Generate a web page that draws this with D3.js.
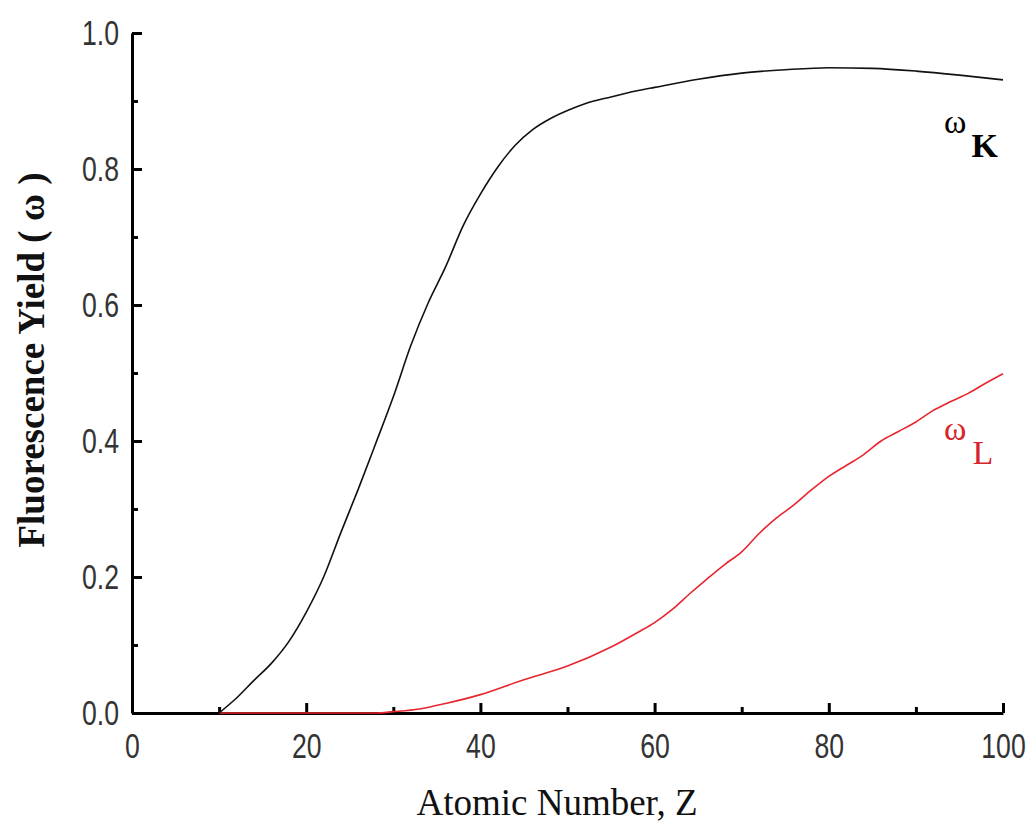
<!DOCTYPE html>
<html>
<head>
<meta charset="utf-8">
<script src="https://cdn.jsdelivr.net/npm/d3@7"></script>
<style>
  html, body { margin: 0; padding: 0; background: #fff; }
  svg { display: block; }
  .tick text { font-family: "Liberation Sans", Arial, sans-serif; }
</style>
</head>
<body>
<svg id="chart" width="1030" height="828"></svg>
<script>
// ---- data ----
const zK = [10, 12, 14, 16, 18, 20, 22, 24, 26, 28, 30, 32, 34, 36, 38, 40, 42, 44, 46, 48, 50, 52, 55, 58, 60, 65, 70, 75, 80, 85, 90, 95, 100];
const omegaK = [0, 0.022, 0.048, 0.073, 0.105, 0.148, 0.2, 0.266, 0.33, 0.397, 0.465, 0.54, 0.603, 0.656, 0.716, 0.763, 0.803, 0.835, 0.858, 0.874, 0.886, 0.896, 0.906, 0.915, 0.92, 0.932, 0.941, 0.946, 0.949, 0.948, 0.944, 0.938, 0.931];

const zL = [10, 20, 28, 30, 33, 36, 40, 45, 50, 55, 58, 60, 62, 64, 66, 68, 70, 72, 74, 76, 78, 80, 82, 84, 86, 88, 90, 92, 94, 96, 98, 100];
const omegaL = [0, 0, 0, 0.002, 0.006, 0.014, 0.027, 0.049, 0.069, 0.097, 0.118, 0.133, 0.152, 0.175, 0.197, 0.218, 0.237, 0.264, 0.287, 0.306, 0.328, 0.348, 0.364, 0.38, 0.4, 0.414, 0.428, 0.445, 0.458, 0.47, 0.485, 0.499];

const xMajorTicks = [0, 20, 40, 60, 80, 100];
const xMinorTicks = [10, 30, 50, 70, 90];
const yMajorTicks = [0, 0.2, 0.4, 0.6, 0.8, 1.0];
const yMinorTicks = [0.1, 0.3, 0.5, 0.7, 0.9];

const xTitle = "Atomic Number, Z";
const yTitle = "Fluorescence Yield ( ω )";

// ---- drawing ----
const svg = d3.select("#chart");
const x = d3.scaleLinear().domain([0, 100]).range([132, 1003]);
const y = d3.scaleLinear().domain([0, 1]).range([713, 33]);

const fmt = d3.format(".1f");
const narrow = 0.74;

// minor ticks
svg.append("g")
  .attr("transform", `translate(0,${y(0)})`)
  .call(d3.axisBottom(x).tickValues(xMinorTicks).tickSize(-6).tickFormat(""))
  .call(g => g.select(".domain").remove())
  .call(g => g.selectAll("line").attr("stroke", "#000").attr("stroke-width", 3));
svg.append("g")
  .attr("transform", `translate(${x(0)},0)`)
  .call(d3.axisLeft(y).tickValues(yMinorTicks).tickSize(-6).tickFormat(""))
  .call(g => g.select(".domain").remove())
  .call(g => g.selectAll("line").attr("stroke", "#000").attr("stroke-width", 3));

// major x axis
svg.append("g")
  .attr("transform", `translate(0,${y(0)})`)
  .call(d3.axisBottom(x).tickValues(xMajorTicks).tickSizeInner(-10).tickSizeOuter(0).tickPadding(19).tickFormat(d3.format("d")))
  .call(g => g.select(".domain").attr("stroke", "#000").attr("stroke-width", 3))
  .call(g => g.selectAll(".tick line").attr("stroke", "#000").attr("stroke-width", 3))
  .call(g => g.selectAll(".tick text")
    .attr("font-size", 36).attr("fill", "#333").attr("dy", "0.71em")
    .attr("transform", `scale(${narrow},1)`));

// major y axis
svg.append("g")
  .attr("transform", `translate(${x(0)},0)`)
  .call(d3.axisLeft(y).tickValues(yMajorTicks).tickSizeInner(-10).tickSizeOuter(0).tickPadding(0).tickFormat(fmt))
  .call(g => g.select(".domain").attr("stroke", "#000").attr("stroke-width", 3))
  .call(g => g.selectAll(".tick line").attr("stroke", "#000").attr("stroke-width", 3))
  .call(g => g.selectAll(".tick text")
    .attr("font-size", 36).attr("fill", "#333")
    .attr("x", -13 / narrow)
    .attr("transform", `scale(${narrow},1)`));

// lines
const line = d3.line().x(d => x(d[0])).y(d => y(d[1])).curve(d3.curveMonotoneX);
svg.append("path")
  .datum(zL.map((z, i) => [z, omegaL[i]]))
  .attr("fill", "none").attr("stroke", "#e8262f").attr("stroke-width", 1.6)
  .attr("d", line);
svg.append("path")
  .datum(zK.map((z, i) => [z, omegaK[i]]))
  .attr("fill", "none").attr("stroke", "#111").attr("stroke-width", 1.6)
  .attr("d", line);

// curve labels
const kLab = svg.append("text").attr("x", 944).attr("y", 133).attr("font-family", "Liberation Serif, Times New Roman, serif").attr("fill", "#000");
kLab.append("tspan").attr("font-size", 34).text("ω");
kLab.append("tspan").attr("font-size", 34).attr("font-weight", "bold").attr("dx", 5).attr("dy", 24).text("K");

const lLab = svg.append("text").attr("x", 944).attr("y", 440).attr("font-family", "Liberation Serif, Times New Roman, serif").attr("fill", "#d8232a");
lLab.append("tspan").attr("font-size", 34).text("ω");
lLab.append("tspan").attr("font-size", 34).attr("dx", 6).attr("dy", 24).text("L");

// axis titles
svg.append("text")
  .attr("x", 557).attr("y", 815)
  .attr("text-anchor", "middle")
  .attr("font-family", "Liberation Serif, Times New Roman, serif")
  .attr("font-size", 37)
  .attr("fill", "#111")
  .text(xTitle);

svg.append("text")
  .attr("transform", "translate(44,360) rotate(-90)")
  .attr("text-anchor", "middle")
  .attr("font-family", "Liberation Serif, Times New Roman, serif")
  .attr("font-size", 37)
  .attr("font-weight", "bold")
  .attr("fill", "#111")
  .text(yTitle);
</script>
</body>
</html>
